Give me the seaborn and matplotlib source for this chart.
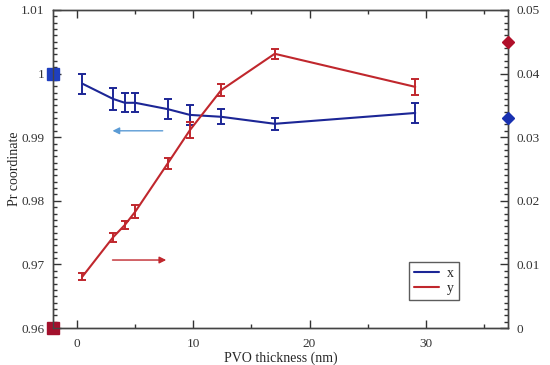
import numpy as np
import pandas as pd
import matplotlib
matplotlib.use("Agg")
import matplotlib.pyplot as plt
from matplotlib.ticker import MultipleLocator, FormatStrFormatter
from matplotlib.lines import Line2D
import seaborn as sns

# PVO thickness (nm)
thickness = [0.45, 3.1, 4.1, 5.0, 7.8, 9.7, 12.4, 17.0, 29.1]

# Pr x coordinate (left axis) and its error
pr_x = [0.9984, 0.9960, 0.9954, 0.9954, 0.9944, 0.9935, 0.9932, 0.9921, 0.9938]
pr_x_err = [0.0016, 0.0018, 0.0015, 0.0015, 0.0016, 0.0016, 0.0012, 0.0009, 0.0015]

# Pr y coordinate (right axis) and its error
pr_y = [0.0081, 0.0143, 0.0162, 0.0183, 0.0259, 0.0311, 0.0374, 0.0431, 0.0379]
pr_y_err = [0.0006, 0.0007, 0.0007, 0.0010, 0.0009, 0.0013, 0.0009, 0.0008, 0.0012]

# reference markers on the spines
ref_left = [1.0, 0.96]
ref_right = [0.045, 0.033]

BLUE = "#1c2696"
RED = "#c0272d"

df = pd.DataFrame({"thickness": thickness, "x": pr_x, "y": pr_y})

sns.set_theme(style="ticks")
plt.rcParams["font.family"] = ["Liberation Serif", "DejaVu Serif"]

fig = plt.figure(figsize=(5.5, 3.65), dpi=100)
ax = fig.add_axes([0.096, 0.101, 0.828, 0.872])
ax2 = ax.twinx()

sns.lineplot(data=df, x="thickness", y="x", ax=ax, color=BLUE, lw=1.5)
ax.errorbar(thickness, pr_x, yerr=pr_x_err, fmt="none", ecolor=BLUE,
            elinewidth=1.4, capsize=3, capthick=1.4)

sns.lineplot(data=df, x="thickness", y="y", ax=ax2, color=RED, lw=1.5)
ax2.errorbar(thickness, pr_y, yerr=pr_y_err, fmt="none", ecolor=RED,
             elinewidth=1.4, capsize=3, capthick=1.4)

xmin, xmax = -2.1, 37.1
ax.set_xlim(xmin, xmax)
ax.set_ylim(0.96, 1.01)
ax2.set_ylim(0, 0.05)

# spine markers
ax.plot([xmin], [ref_left[0]], marker="s", ms=8, color="#1f3fbf", clip_on=False, zorder=5)
ax.plot([xmin], [ref_left[1]], marker="s", ms=8, color="#a3102c", clip_on=False, zorder=5)
ax2.plot([xmax], [ref_right[0]], marker="D", ms=6, color="#b0102a", clip_on=False, zorder=5)
ax2.plot([xmax], [ref_right[1]], marker="D", ms=6, color="#1830b0", clip_on=False, zorder=5)

# arrows pointing to the relevant axis
ax.annotate("", xy=(2.8, 0.991), xytext=(7.6, 0.991),
            arrowprops=dict(arrowstyle="-|>", color="#5b9bd5", lw=1.0, mutation_scale=10))
ax.annotate("", xy=(7.9, 0.9707), xytext=(2.8, 0.9707),
            arrowprops=dict(arrowstyle="-|>", color="#c0272d", lw=1.0, mutation_scale=10))

ax.set_xlabel("PVO thickness (nm)", fontsize=10, labelpad=1)
ax.set_ylabel("Pr coordinate", fontsize=10)
ax.yaxis.set_label_coords(-0.069, 0.5)
ax2.set_ylabel("")

ax.xaxis.set_major_locator(MultipleLocator(10))
ax.xaxis.set_minor_locator(MultipleLocator(5))
ax.yaxis.set_major_locator(MultipleLocator(0.01))
ax.yaxis.set_minor_locator(MultipleLocator(0.001))
ax.yaxis.set_major_formatter(FormatStrFormatter("%g"))
ax2.yaxis.set_major_locator(MultipleLocator(0.01))
ax2.yaxis.set_minor_locator(MultipleLocator(0.001))
ax2.yaxis.set_major_formatter(FormatStrFormatter("%g"))

ax.tick_params(axis="both", which="both", direction="in", colors="#333333",
               labelsize=9.5, width=1.0)
ax.tick_params(axis="x", which="both", top=True, pad=7)
ax.tick_params(axis="y", which="both", pad=6)
ax.tick_params(which="major", length=6)
ax.tick_params(which="minor", length=3)
ax2.tick_params(axis="y", which="both", direction="in", colors="#333333",
                labelsize=9.5, width=1.0, pad=6)
ax2.tick_params(which="major", length=6)
ax2.tick_params(which="minor", length=3)

for a in (ax, ax2):
    for s in a.spines.values():
        s.set_visible(True)
        s.set_color("#444444")
        s.set_linewidth(1.0)

handles = [Line2D([], [], color=BLUE, lw=1.5), Line2D([], [], color=RED, lw=1.5)]
leg = ax.legend(handles, ["x", "y"], loc="lower right", bbox_to_anchor=(0.892, 0.088),
                borderaxespad=0, fontsize=10, frameon=True, fancybox=False,
                edgecolor="#333333", handlelength=1.8, handletextpad=0.6,
                borderpad=0.35, labelspacing=0.15)
leg.get_frame().set_linewidth(1.0)

fig.savefig("out.png", dpi=100)
